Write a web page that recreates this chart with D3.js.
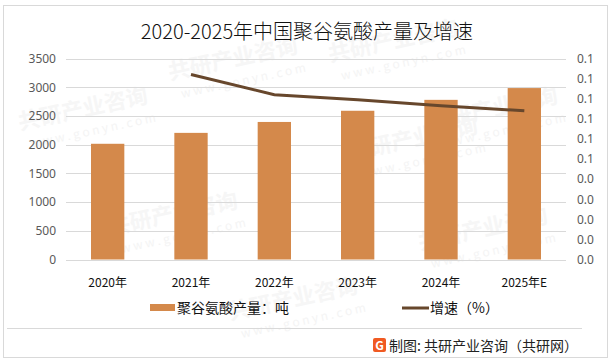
<!DOCTYPE html>
<html>
<head>
<meta charset="utf-8">
<script src="https://cdn.jsdelivr.net/npm/d3@7"></script>
<style>
  body { margin: 0; background: #fff; }
  text { font-family: "Noto Sans CJK SC", "Noto Sans", sans-serif; }
</style>
</head>
<body>
<div id="chart"></div>
<script>
// chart data
const years = ["2020年", "2021年", "2022年", "2023年", "2024年", "2025年E"];
const output = [2015, 2205, 2395, 2590, 2780, 2985];
const growth = [null, 0.092, 0.082, 0.0795, 0.0765, 0.074];
const leftTicks = [0, 500, 1000, 1500, 2000, 2500, 3000, 3500];
const rightTicks = [0, 0.01, 0.02, 0.03, 0.04, 0.05, 0.06, 0.07, 0.08, 0.09, 0.1];

const W = 614, H = 362;
const plot = {left: 66, right: 566, top: 58.5, bottom: 259.5};

const svg = d3.select("#chart").append("svg")
  .attr("width", W).attr("height", H);

// outer frame
svg.append("rect")
  .attr("x", 3.5).attr("y", 5.5).attr("width", 604).attr("height", 352)
  .attr("fill", "#fff").attr("stroke", "#d9d9d9");

// faint watermarks, kept inside the frame
const marks = [[20, 130], [170, 80], [330, 62], [110, 235], [350, 160],
               [420, 250], [430, 130], [230, 320]];
marks.forEach(function(m) {
  const g = svg.append("g").attr("transform", "translate(" + m[0] + "," + m[1] + ") rotate(-12)");
  g.append("text").text("共研产业咨询").attr("font-size", 22).attr("font-weight", 700)
    .attr("fill", "#f6f6f6");
  g.append("text").text("w w w . g o n y n . c o m").attr("y", 20).attr("x", 8)
    .attr("font-size", 12).attr("fill", "#f4f4f4");
});

svg.append("text")
  .attr("x", W / 2).attr("y", 39)
  .attr("text-anchor", "middle")
  .attr("font-size", 20)
  .attr("font-weight", 300)
  .attr("fill", "#111")
  .text("2020-2025年中国聚谷氨酸产量及增速");

const x = d3.scaleBand().domain(years).range([plot.left, plot.right]).paddingInner(0.6).paddingOuter(0.3);
const y = d3.scaleLinear().domain([0, 3500]).range([plot.bottom, plot.top]);
const y2 = d3.scaleLinear().domain([0, 0.1]).range([plot.bottom, plot.top]);

// gridlines
svg.append("g").selectAll("line")
  .data(leftTicks).enter().append("line")
  .attr("x1", plot.left).attr("x2", plot.right)
  .attr("y1", function(d) { return Math.round(y(d)) + 0.5; })
  .attr("y2", function(d) { return Math.round(y(d)) + 0.5; })
  .attr("stroke", "#d9d9d9");

// left axis
const yAxis = svg.append("g")
  .attr("transform", "translate(" + (plot.left - 10) + ",0)")
  .call(d3.axisLeft(y).tickValues(leftTicks).tickSize(0).tickPadding(0).tickFormat(d3.format("d")));
yAxis.select(".domain").remove();
yAxis.selectAll("text").attr("font-size", 12).attr("fill", "#595959")
  .style("font-family", "'Noto Sans', sans-serif");

// right axis (one decimal, so 0.05 and up read 0.1)
const y2Axis = svg.append("g")
  .attr("transform", "translate(" + (plot.right + 11) + ",0)")
  .call(d3.axisRight(y2).tickValues(rightTicks).tickSize(0).tickPadding(0)
    .tickFormat(function(d) { return (Math.round(d * 10 + 1e-7) / 10).toFixed(1); }));
y2Axis.select(".domain").remove();
y2Axis.selectAll("text").attr("font-size", 12).attr("fill", "#595959")
  .style("font-family", "'Noto Sans', sans-serif");

// x labels
svg.append("g").selectAll("text")
  .data(years).enter().append("text")
  .attr("x", function(d) { return x(d) + x.bandwidth() / 2; })
  .attr("y", 287)
  .attr("text-anchor", "middle")
  .attr("font-size", 12)
  .attr("fill", "#111")
  .text(function(d) { return d; });

// bars
svg.append("g").selectAll("rect")
  .data(output).enter().append("rect")
  .attr("x", function(d, i) { return x(years[i]); })
  .attr("y", function(d) { return y(d); })
  .attr("width", x.bandwidth())
  .attr("height", function(d) { return y(0) - y(d); })
  .attr("fill", "#d4894b");

// growth line
const line = d3.line()
  .defined(function(d) { return d != null; })
  .x(function(d, i) { return x(years[i]) + x.bandwidth() / 2; })
  .y(function(d) { return y2(d); });
svg.append("path")
  .datum(growth)
  .attr("d", line)
  .attr("fill", "none")
  .attr("stroke", "#67472c")
  .attr("stroke-width", 3);

// legend
svg.append("rect").attr("x", 150).attr("y", 304).attr("width", 25).attr("height", 7).attr("fill", "#d4894b");
svg.append("text").attr("x", 177).attr("y", 313).attr("font-size", 14).attr("fill", "#111").text("聚谷氨酸产量：吨");
svg.append("line").attr("x1", 402).attr("x2", 429).attr("y1", 308).attr("y2", 308)
  .attr("stroke", "#67472c").attr("stroke-width", 3);
svg.append("text").attr("x", 430).attr("y", 313).attr("font-size", 14).attr("fill", "#111").text("增速（%）");

// footer
svg.append("line").attr("x1", 7).attr("x2", 582).attr("y1", 328.5).attr("y2", 328.5).attr("stroke", "#d9d9d9");
const logo = svg.append("g").attr("transform", "translate(373,338)");
logo.append("rect").attr("width", 13).attr("height", 14).attr("rx", 2).attr("fill", "#f05a22");
logo.append("text").attr("x", 6.5).attr("y", 11.5).attr("text-anchor", "middle")
  .attr("font-size", 12).attr("font-weight", 700).attr("fill", "#fff").text("G");
svg.append("text").attr("x", 389).attr("y", 351).attr("font-size", 14).attr("fill", "#222")
  .text("制图: 共研产业咨询（共研网）");
</script>
</body>
</html>
